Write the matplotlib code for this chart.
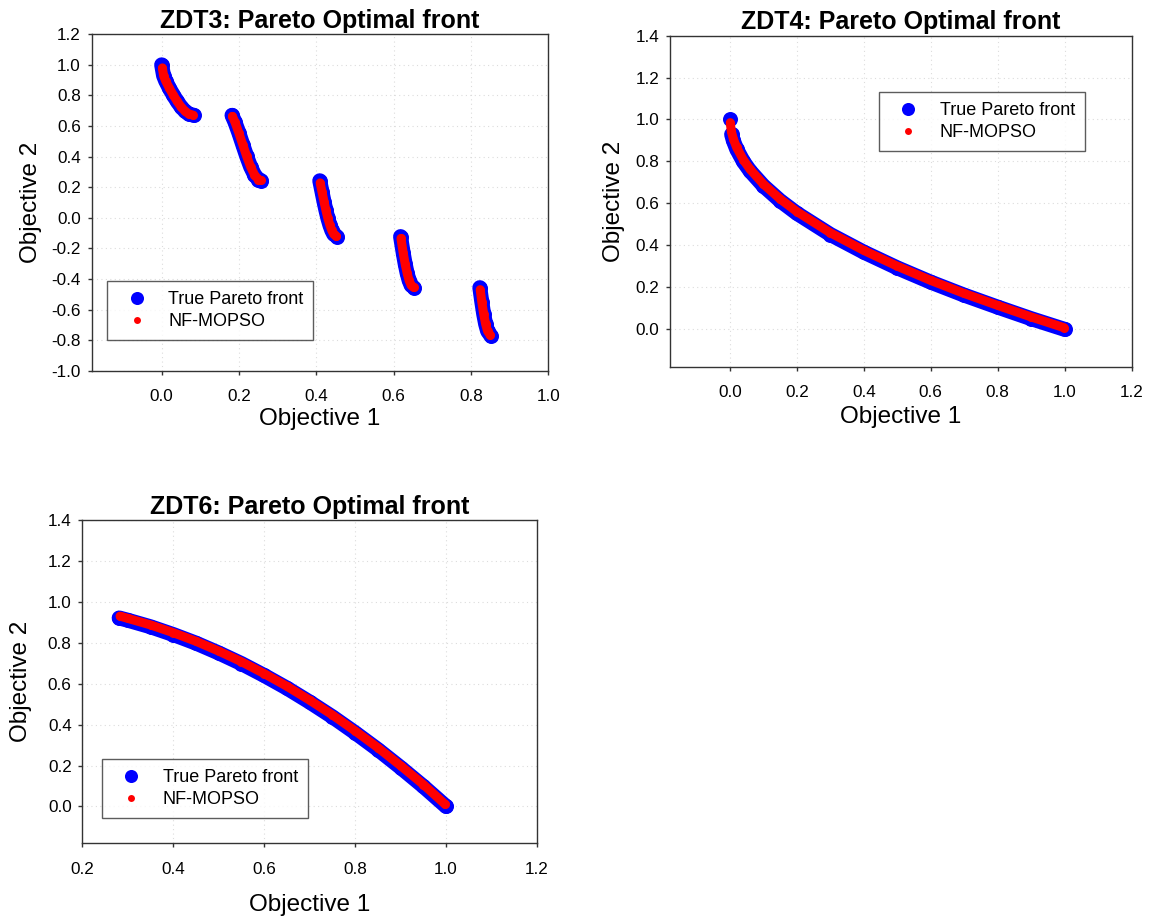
import matplotlib
matplotlib.use("Agg")
import matplotlib.pyplot as plt
from matplotlib.ticker import FormatStrFormatter, MultipleLocator

plt.rcParams["font.family"] = ["Liberation Sans", "DejaVu Sans"]
plt.rcParams["axes.unicode_minus"] = False

LABEL_TRUE = "True Pareto front"
LABEL_ALGO = "NF-MOPSO"

# ZDT3: five disconnected pieces of the front (Objective 1, Objective 2)
zdt3_true_x = [
    [0.000, 0.005, 0.010, 0.020, 0.030, 0.040, 0.050, 0.060, 0.070, 0.083],
    [0.182, 0.190, 0.200, 0.210, 0.220, 0.230, 0.240, 0.250, 0.258],
    [0.409, 0.415, 0.420, 0.425, 0.430, 0.435, 0.440, 0.445, 0.454],
    [0.618, 0.625, 0.630, 0.635, 0.640, 0.645, 0.653],
    [0.823, 0.828, 0.833, 0.838, 0.843, 0.852],
]
zdt3_true_y = [
    [1.000, 0.929, 0.897, 0.847, 0.803, 0.762, 0.726, 0.698, 0.679, 0.670],
    [0.670, 0.623, 0.553, 0.477, 0.402, 0.334, 0.282, 0.250, 0.242],
    [0.242, 0.167, 0.105, 0.048, -0.004, -0.047, -0.082, -0.107, -0.124],
    [-0.123, -0.233, -0.303, -0.363, -0.409, -0.440, -0.458],
    [-0.457, -0.548, -0.630, -0.695, -0.741, -0.773],
]
zdt3_algo_x = [
    [0.002, 0.005, 0.010, 0.020, 0.030, 0.040, 0.050, 0.060, 0.070, 0.080],
    [0.183, 0.190, 0.200, 0.210, 0.220, 0.230, 0.240, 0.250, 0.256],
    [0.410, 0.415, 0.420, 0.425, 0.430, 0.435, 0.440, 0.445, 0.452],
    [0.619, 0.625, 0.630, 0.635, 0.640, 0.645, 0.652],
    [0.824, 0.828, 0.833, 0.838, 0.843, 0.850],
]
zdt3_algo_y = [
    [0.980, 0.929, 0.897, 0.847, 0.803, 0.762, 0.726, 0.698, 0.679, 0.672],
    [0.663, 0.623, 0.553, 0.477, 0.402, 0.334, 0.282, 0.250, 0.245],
    [0.228, 0.167, 0.105, 0.048, -0.004, -0.047, -0.082, -0.107, -0.122],
    [-0.135, -0.233, -0.303, -0.363, -0.409, -0.440, -0.456],
    [-0.470, -0.548, -0.630, -0.695, -0.741, -0.768],
]

# ZDT4: convex front with an isolated point at the top
zdt4_true_x = [
    [0.000],
    [0.005, 0.010, 0.020, 0.040, 0.060, 0.100, 0.150, 0.200, 0.300, 0.400,
     0.500, 0.600, 0.700, 0.800, 0.900, 1.000],
]
zdt4_true_y = [
    [1.000],
    [0.929, 0.900, 0.859, 0.800, 0.755, 0.684, 0.613, 0.553, 0.452, 0.368,
     0.293, 0.225, 0.163, 0.106, 0.051, 0.000],
]
zdt4_algo_x = [
    [0.001, 0.004, 0.010, 0.020, 0.040, 0.060, 0.100, 0.150, 0.200, 0.300,
     0.400, 0.500, 0.600, 0.700, 0.800, 0.900, 0.998],
]
zdt4_algo_y = [
    [0.985, 0.945, 0.908, 0.867, 0.808, 0.763, 0.692, 0.621, 0.561, 0.460,
     0.376, 0.301, 0.233, 0.171, 0.114, 0.059, 0.008],
]

# ZDT6: concave front
zdt6_true_x = [
    [0.281, 0.300, 0.350, 0.400, 0.450, 0.500, 0.550, 0.600, 0.650, 0.700,
     0.750, 0.800, 0.850, 0.900, 0.950, 1.000],
]
zdt6_true_y = [
    [0.921, 0.910, 0.878, 0.840, 0.798, 0.750, 0.698, 0.640, 0.578, 0.510,
     0.438, 0.360, 0.278, 0.190, 0.098, 0.000],
]
zdt6_algo_x = [
    [0.283, 0.300, 0.350, 0.400, 0.450, 0.500, 0.550, 0.600, 0.650, 0.700,
     0.750, 0.800, 0.850, 0.900, 0.950, 0.998],
]
zdt6_algo_y = [
    [0.930, 0.919, 0.887, 0.849, 0.807, 0.759, 0.707, 0.649, 0.587, 0.519,
     0.447, 0.369, 0.287, 0.199, 0.107, 0.010],
]

panels = [
    dict(title="ZDT3: Pareto Optimal front",
         true=(zdt3_true_x, zdt3_true_y), algo=(zdt3_algo_x, zdt3_algo_y),
         xlim=(-0.181, 1.0), ylim=(-1.0, 1.2),
         rect=[0.0795, 0.5962, 0.3960, 0.3665],
         legend=dict(loc="lower left", bbox_to_anchor=(0.0342, 0.0913)),
         xlabel_y=-0.112, ylabel_x=-0.108),
    dict(title="ZDT4: Pareto Optimal front",
         true=(zdt4_true_x, zdt4_true_y), algo=(zdt4_algo_x, zdt4_algo_y),
         xlim=(-0.179, 1.2), ylim=(-0.178, 1.4),
         rect=[0.5811, 0.6005, 0.4004, 0.3608],
         legend=dict(loc="upper left", bbox_to_anchor=(0.4525, 0.8285)),
         xlabel_y=-0.119, ylabel_x=-0.098),
    dict(title="ZDT6: Pareto Optimal front",
         true=(zdt6_true_x, zdt6_true_y), algo=(zdt6_algo_x, zdt6_algo_y),
         xlim=(0.2, 1.2), ylim=(-0.18, 1.4),
         rect=[0.0714, 0.0814, 0.3944, 0.3522],
         legend=dict(loc="lower left", bbox_to_anchor=(0.0431, 0.0773)),
         xlabel_y=-0.157, ylabel_x=-0.111),
]

BLUE_PT = 10.8
RED_PT = 6.5
SPINE_COLOR = "#333333"

fig = plt.figure(figsize=(11.53, 9.18), dpi=100)

for p in panels:
    ax = fig.add_axes(p["rect"])
    tx, ty = p["true"]
    for i, (sx, sy) in enumerate(zip(tx, ty)):
        ax.plot(sx, sy, "-", color="#0000ff", lw=BLUE_PT, solid_capstyle="round",
                solid_joinstyle="round", zorder=2)
        ax.plot(sx, sy, "o", color="#0000ff", ms=BLUE_PT, mew=0, zorder=2,
                label=LABEL_TRUE if i == 0 else None)
    axx, axy = p["algo"]
    for i, (sx, sy) in enumerate(zip(axx, axy)):
        ax.plot(sx, sy, "-", color="#ff0000", lw=RED_PT, solid_capstyle="round",
                solid_joinstyle="round", zorder=3)
        ax.plot(sx, sy, "o", color="#ff0000", ms=RED_PT, mew=0, zorder=3,
                label=LABEL_ALGO if i == 0 else None)

    ax.set_xlim(*p["xlim"])
    ax.set_ylim(*p["ylim"])
    ax.xaxis.set_major_locator(MultipleLocator(0.2))
    ax.yaxis.set_major_locator(MultipleLocator(0.2))
    ax.xaxis.set_major_formatter(FormatStrFormatter("%.1f"))
    ax.yaxis.set_major_formatter(FormatStrFormatter("%.1f"))
    ax.tick_params(axis="both", direction="out", length=2.7, width=1.0,
                   color=SPINE_COLOR, labelsize=12.3, top=False, right=False)
    ax.tick_params(axis="x", pad=10.5)
    ax.tick_params(axis="y", pad=5)
    ax.grid(True, color="#dcdcdc", linestyle=(0, (1, 3)), linewidth=0.8)
    ax.set_axisbelow(True)
    for side in ("left", "bottom", "top", "right"):
        ax.spines[side].set_linewidth(1.0)
        ax.spines[side].set_color(SPINE_COLOR)

    ax.set_title(p["title"], fontsize=18, fontweight="bold", pad=4.5)
    ax.set_xlabel("Objective 1", fontsize=17.5)
    ax.set_ylabel("Objective 2", fontsize=17.5)
    ax.xaxis.set_label_coords(0.5, p["xlabel_y"])
    ax.yaxis.set_label_coords(p["ylabel_x"], 0.5)

    handles, labels = ax.get_legend_handles_labels()
    leg = ax.legend(handles, labels, fontsize=13, frameon=True, fancybox=False,
                    borderaxespad=0, handlelength=2.15, handletextpad=0.68,
                    borderpad=0.55, labelspacing=0.28, **p["legend"])
    leg.get_frame().set_edgecolor(SPINE_COLOR)
    leg.get_frame().set_linewidth(1.0)
    leg.legend_handles[0].set_markersize(9.4)
    leg.legend_handles[1].set_markersize(5.0)

fig.savefig("out.png", dpi=100)
